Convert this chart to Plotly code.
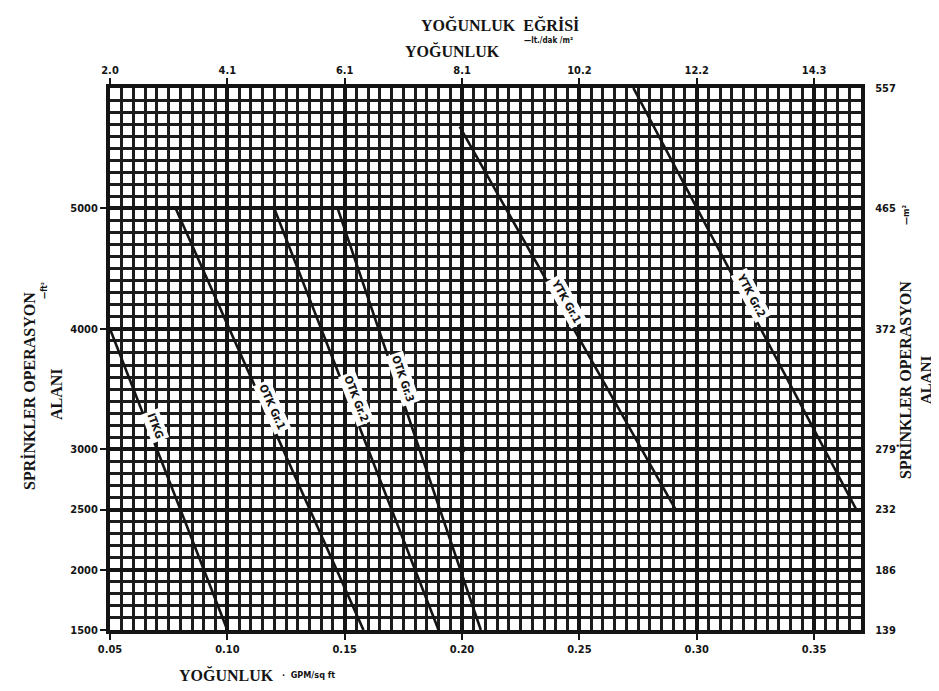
import math
import plotly.graph_objects as go

# ---------------- data ----------------
curve_names = ["ITKG", "OTK Gr.1", "OTK Gr.2", "OTK Gr.3", "YTK Gr.1", "YTK Gr.2"]
# each curve: density (gpm/ft2) at its two ends, and area (ft2) at its two ends
dens_hi_area = [0.050, 0.078, 0.120, 0.147, 0.199, 0.273]
area_hi = [4000, 5000, 5000, 5000, 5680, 6000]
dens_lo_area = [0.100, 0.158, 0.190, 0.208, 0.291, 0.368]
area_lo = [1500, 1500, 1500, 1500, 2500, 2500]
label_area = [3170, 3330, 3400, 3570, 4200, 4250]

design_density = [0.20]
design_area = [3000]

x_tick_vals = [0.05, 0.10, 0.15, 0.20, 0.25, 0.30, 0.35]
x_tick_text = ["0.05", "0.10", "0.15", "0.20", "0.25", "0.30", "0.35"]
x_top_text = ["2.0", "4.1", "6.1", "8.1", "10.2", "12.2", "14.3"]
y_tick_vals = [1500, 2000, 2500, 3000, 4000, 5000]
y_tick_text = ["1500", "2000", "2500", "3000", "4000", "5000"]
y_right_vals = [1500, 2000, 2500, 3000, 4000, 5000, 6000]
y_right_text = ["139", "186", "232", "279", "372", "465", "557"]

X_RANGE = [0.05, 0.37]
Y_RANGE = [1500, 6000]

# ---------------- layout geometry ----------------
W, H = 939, 691
L, R, T, B = 102, 86, 80, 69
PW, PH = W - L - R, H - T - B
INK = "#141414"
NUM_FONT = "Liberation Sans Narrow, DejaVu Sans Condensed, Arial Narrow, sans-serif"
SERIF = "Liberation Serif, DejaVu Serif, serif"


def paper(px, py):
    return (px - L) / PW, (H - B - py) / PH


fig = go.Figure()

for i, name in enumerate(curve_names):
    fig.add_trace(go.Scatter(
        x=[dens_hi_area[i], dens_lo_area[i]],
        y=[area_hi[i], area_lo[i]],
        mode="lines", line=dict(color=INK, width=2.6),
        name=name, showlegend=False, hoverinfo="skip"))

fig.add_trace(go.Scatter(x=design_density, y=design_area, mode="markers",
                         marker=dict(color=INK, size=7, symbol="circle"),
                         showlegend=False, hoverinfo="skip"))
fig.add_trace(go.Scatter(x=design_density, y=design_area, mode="markers",
                         marker=dict(color=INK, size=16, symbol="line-ns",
                                     line=dict(color=INK, width=2)),
                         showlegend=False, hoverinfo="skip"))

# curve labels, rotated along each line
px_per_x = PW / (X_RANGE[1] - X_RANGE[0])
px_per_y = PH / (Y_RANGE[1] - Y_RANGE[0])
for i, name in enumerate(curve_names):
    s = (dens_lo_area[i] - dens_hi_area[i]) / (area_lo[i] - area_hi[i])
    xa = dens_lo_area[i] + s * (label_area[i] - area_lo[i])
    dxdy = -px_per_x * s / px_per_y
    ang = math.degrees(math.atan2(1.0, dxdy))
    d = 7
    fig.add_annotation(
        x=xa, y=label_area[i], xref="x", yref="y", text="<b>%s</b>" % name,
        showarrow=False, textangle=ang, bgcolor="white", borderpad=2,
        xshift=d * math.sin(math.radians(ang)),
        yshift=d * math.cos(math.radians(ang)),
        font=dict(family="DejaVu Sans Condensed, sans-serif", size=11, color=INK))

# titles
texts = [
    ("YOĞUNLUK  EĞRİSİ", 492, 17, 0, SERIF, 16),
    ("YOĞUNLUK", 444, 43, 0, SERIF, 16),
    ("—lt./dak /m²", 540, 33, 0, NUM_FONT, 8),
    ("YOĞUNLUK", 218, 667, 0, SERIF, 16),
    ("·  GPM/sq ft", 300, 667, 0, NUM_FONT, 9),
    ("SPRİNKLER OPERASYON", 21, 383, -90, SERIF, 16),
    ("ALANI", 48, 386, -90, SERIF, 16),
    ("—ft²", 36, 283, -90, NUM_FONT, 8),
    ("SPRİNKLER OPERASYON", 897, 372, -90, SERIF, 16),
    ("ALANI", 918, 372, -90, SERIF, 15),
    ("—m²", 898, 207, -90, NUM_FONT, 9),
]
for txt, px, py, ang, fam, sz in texts:
    xp, yp = paper(px, py)
    fig.add_annotation(x=xp, y=yp, xref="paper", yref="paper", text="<b>%s</b>" % txt,
                       showarrow=False, textangle=ang, xanchor="center", yanchor="middle",
                       font=dict(family=fam, size=sz, color=INK))

axis_common = dict(showline=True, linecolor=INK, linewidth=4, zeroline=False,
                   ticks="outside", ticklen=6, tickwidth=2, tickcolor=INK,
                   tickfont=dict(family=NUM_FONT, size=11, color=INK, weight="bold"))

fig.update_layout(
    width=W, height=H, margin=dict(l=L, r=R, t=T, b=B),
    paper_bgcolor="white", plot_bgcolor="white", showlegend=False,
    xaxis=dict(range=X_RANGE, tickmode="array", tickvals=x_tick_vals, ticktext=x_tick_text,
               showgrid=True, gridcolor=INK, gridwidth=4, mirror=False,
               minor=dict(tickmode="linear", tick0=0.05, dtick=0.005, showgrid=True,
                          gridcolor="#1c1c1c", gridwidth=3, ticks=""),
               **axis_common),
    xaxis2=dict(range=X_RANGE, overlaying="x", side="top", tickmode="array",
                tickvals=x_tick_vals, ticktext=x_top_text, showgrid=False, **axis_common),
    yaxis=dict(range=Y_RANGE, tickmode="array", tickvals=y_tick_vals, ticktext=y_tick_text,
               showgrid=True, gridcolor=INK, gridwidth=4,
               minor=dict(tickmode="linear", tick0=1500, dtick=100, showgrid=True,
                          gridcolor="#1c1c1c", gridwidth=3, ticks=""),
               **axis_common),
    yaxis2=dict(range=Y_RANGE, overlaying="y", side="right", tickmode="array",
                tickvals=y_right_vals, ticktext=y_right_text, showgrid=False,
                **dict(axis_common, ticks="outside", ticklen=8, tickcolor="white")),
)

# dummy trace so the secondary axes are drawn
fig.add_trace(go.Scatter(x=[X_RANGE[0]], y=[Y_RANGE[0]], xaxis="x2", yaxis="y2",
                         mode="markers", marker=dict(opacity=0), showlegend=False,
                         hoverinfo="skip"))

fig.write_html("out.html")
